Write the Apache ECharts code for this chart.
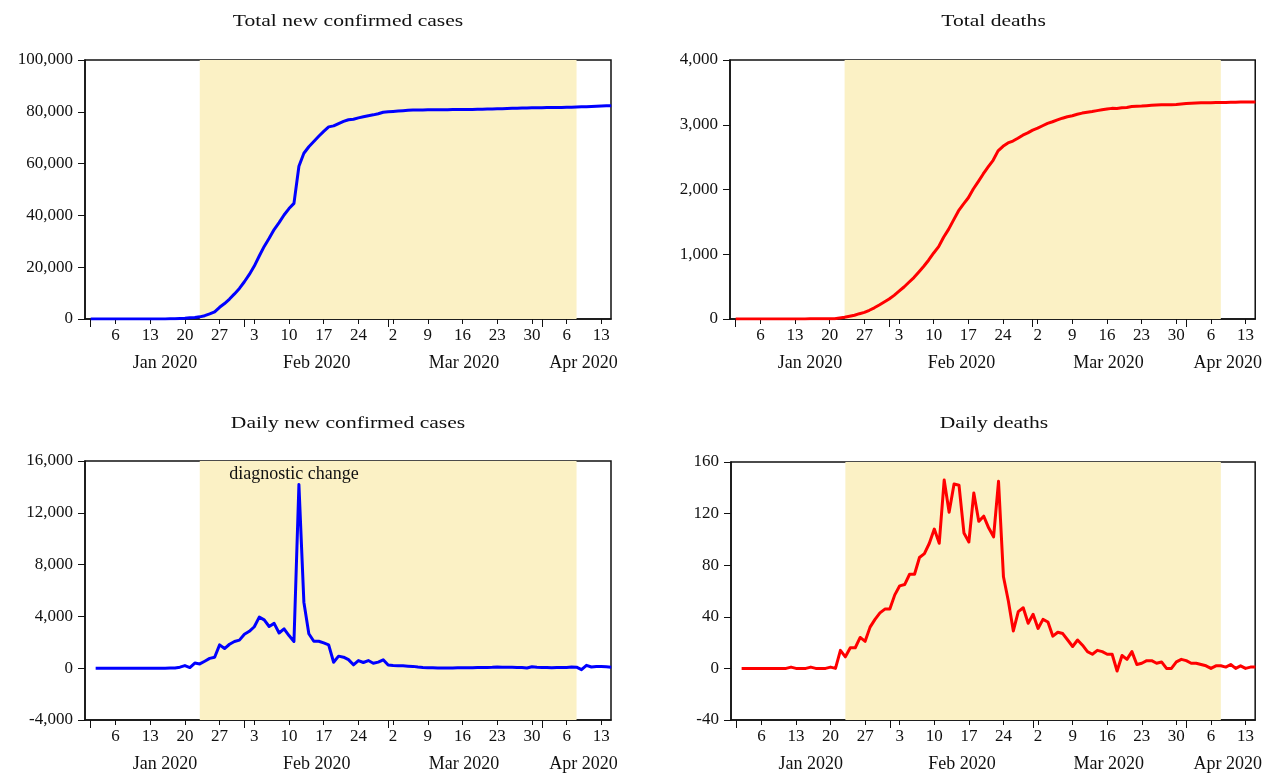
<!DOCTYPE html>
<html><head><meta charset="utf-8">
<script src="https://cdn.jsdelivr.net/npm/echarts@6/dist/echarts.min.js"></script>
<style>html,body{margin:0;padding:0;background:#fff}#c{width:1265px;height:773px}</style>
</head><body><div id="c"></div>
<script>
// ---------------- data ----------------
const startDate = '2020-01-01';           // first observation (totals)
const endDate = '2020-04-15';             // last observation
const lockdownStart = '2020-01-23';       // shaded period
const lockdownEnd = '2020-04-08';

// Total new confirmed cases, Jan 1 .. Apr 15
const totalCases = [
  27,27,27,27,27,27,27,27,27,27,27,27,27,27,27,45,62,121,198,291,440,571,830,1287,1975,2744,4515,5974,7711,9692,11791,
  14380,17205,20438,24324,28018,31161,34546,37198,40171,42638,44653,59000,64000,66500,68500,70548,72436,74185,74576,75465,76288,76936,77150,77658,78064,78497,78824,79251,79824,
  80026,80151,80270,80409,80552,80651,80695,80735,80754,80778,80793,80813,80824,80844,80860,80881,80894,80928,80967,81008,81054,81093,81171,81218,81285,81340,81394,81439,81470,81518,81554,
  81589,81620,81639,81669,81708,81740,81802,81865,81907,81953,82052,82160,82249,82295,82341
];
// Total deaths, Jan 1 .. Apr 15
const totalDeaths = [
  0,0,0,0,0,0,0,0,0,0,0,1,1,1,1,2,2,2,2,3,3,17,26,42,58,82,103,135,173,216,262,
  308,365,429,494,567,640,726,815,912,1020,1117,1263,1384,1527,1669,1774,1872,2008,2122,2240,2349,2451,2596,2667,2719,2748,2792,2839,2874,
  2916,2947,2985,3021,3046,3074,3101,3123,3140,3162,3180,3193,3204,3218,3231,3242,3253,3251,3261,3268,3281,3284,3288,3294,3300,3304,3309,3309,3309,3314,3321,
  3327,3331,3335,3338,3340,3340,3342,3344,3345,3348,3348,3350,3350,3351,3351
];
// Daily new confirmed cases, Jan 2 .. Apr 15
const dailyCases = [
  0,0,0,0,0,0,0,0,0,0,0,0,0,0,4,17,20,80,200,50,400,330,540,760,850,1800,1520,1850,2060,2170,
  2620,2850,3200,3940,3730,3220,3460,2720,3040,2520,2060,14180,5100,2660,2080,2080,1950,1800,460,930,850,660,260,590,440,590,380,470,650,
  240,200,190,180,160,140,90,60,40,30,25,20,20,25,30,30,30,40,50,60,60,70,90,80,80,70,60,50,20,110,70,
  60,50,40,50,50,60,90,80,-110,220,90,130,130,110,80
];
// Daily deaths, Jan 2 .. Apr 15
const dailyDeaths = [
  0,0,0,0,0,0,0,0,0,0,1,0,0,0,1,0,0,0,1,0,14,9,16,16,24,21,32,38,43,46,
  46,57,64,65,73,73,86,89,97,108,97,146,121,143,142,105,98,136,114,118,109,102,145,71,52,29,44,47,35,
  42,31,38,36,25,28,27,22,17,22,18,13,11,14,13,11,11,-2,10,7,13,3,4,6,6,4,5,0,0,5,7,
  6,4,4,3,2,0,2,2,1,3,0,2,0,1,1
];

const titles = ['Total new confirmed cases', 'Total deaths', 'Daily new confirmed cases', 'Daily deaths'];
const dayTickDates = ['2020-01-06','2020-01-13','2020-01-20','2020-01-27','2020-02-03','2020-02-10','2020-02-17','2020-02-24',
  '2020-03-02','2020-03-09','2020-03-16','2020-03-23','2020-03-30','2020-04-06','2020-04-13'];
const dayTickLabels = ['6','13','20','27','3','10','17','24','2','9','16','23','30','6','13'];
const monthStartDates = ['2020-01-01','2020-02-01','2020-03-01','2020-04-01'];
const monthLabels = ['Jan 2020','Feb 2020','Mar 2020','Apr 2020'];
const yTicks = [[0,100000,20000],[0,4000,1000],[-4000,16000,4000],[-40,160,40]];
const annotationText = 'diagnostic change';
const annotationDate = '2020-02-11';
const annotationValue = 15000;

// ---------------- helpers ----------------
const DAY = 86400000;
function idx(d){ const [y,m,dd] = d.split('-').map(Number); const [y0,m0,d0] = startDate.split('-').map(Number);
  return Math.round((Date.UTC(y,m-1,dd) - Date.UTC(y0,m0-1,d0)) / DAY); }
const dayTickIdx = dayTickDates.map(idx);
const monthStartIdx = monthStartDates.map(idx);
const monthLabelPos = [15, 45.6, 75.3, 99.4];   // label anchors (layout)
const font = 'Liberation Serif';
const txt = '#111';
const fs = 17;

function pairs(arr, first){ return arr.map((v,i)=>[first+i, v]); }

const panels = [
  {data: pairs(totalCases, idx(startDate)),  color:'#0000FF', grid:{left:85,  top:60,  width:526, height:259}, titleY:22},
  {data: pairs(totalDeaths, idx(startDate)), color:'#FF0000', grid:{left:730, top:60,  width:527, height:259}, titleY:22},
  {data: pairs(dailyCases, idx(startDate)+1), color:'#0000FF', grid:{left:85,  top:461, width:526, height:260}, titleY:424},
  {data: pairs(dailyDeaths, idx(startDate)+1),color:'#FF0000', grid:{left:731, top:462, width:526, height:259}, titleY:424}
];
const xMin = -1.15, xMax = 104.95;

const option = {animation:false, backgroundColor:'#fff', graphic:[], grid:[], xAxis:[], yAxis:[], series:[]};
panels.forEach((p,i)=>{
  option.grid.push(Object.assign({show:true, borderColor:'#111', borderWidth:1.5, backgroundColor:'transparent', containLabel:false}, p.grid));
  option.graphic.push({type:'text', x:p.grid.left + p.grid.width/2, y:p.titleY, scaleX:1.27, silent:true,
    style:{text:titles[i], fontFamily:font, fontSize:17, fill:txt, textAlign:'center', textVerticalAlign:'middle', verticalAlign:'middle'}});
  const [ymin,ymax,yint] = yTicks[i];
  option.yAxis.push({gridIndex:i, type:'value', min:ymin, max:ymax, interval:yint, position:'left',
    axisLine:{show:true, onZero:false, lineStyle:{color:'#111', width:1.5}},
    axisTick:{show:true, inside:false, length:7, lineStyle:{color:'#111'}},
    axisLabel:{margin:12, fontFamily:font, fontSize:fs, color:txt, formatter:v=>v.toLocaleString('en-US')},
    splitLine:{show:false}});
  option.xAxis.push({gridIndex:i, type:'value', min:xMin, max:xMax, position:'bottom',
    axisLine:{show:true, onZero:false, lineStyle:{color:'#111', width:1.5}},
    axisTick:{show:true, inside:false, length:5, customValues:dayTickIdx, lineStyle:{color:'#111'}},
    axisLabel:{customValues:dayTickIdx, margin:8, fontFamily:font, fontSize:fs, color:txt,
      formatter:v=>dayTickLabels[dayTickIdx.indexOf(Math.round(v))]},
    splitLine:{show:false}});
  option.xAxis.push({gridIndex:i, type:'value', min:xMin, max:xMax, position:'bottom',
    axisLine:{show:false, onZero:false},
    axisTick:{show:true, inside:false, length:8, customValues:monthStartIdx, lineStyle:{color:'#111'}},
    axisLabel:{customValues:monthLabelPos, margin:35, fontFamily:font, fontSize:18, color:txt,
      formatter:v=>monthLabels[monthLabelPos.indexOf(v)]},
    splitLine:{show:false}});
  // shading
  option.series.push({type:'line', xAxisIndex:2*i, yAxisIndex:i, data:p.data, silent:true, z:1,
    showSymbol:false, lineStyle:{width:0, opacity:0},
    markArea:{silent:true, itemStyle:{color:'#FBF1C5'}, data:[[{xAxis:idx(lockdownStart)},{xAxis:idx(lockdownEnd)}]]}});
  const s = {type:'line', xAxisIndex:2*i, yAxisIndex:i, data:p.data, z:3, showSymbol:false, clip:true,
    lineStyle:{color:p.color, width:3, join:'round'}, itemStyle:{color:p.color}};
  if (i===2) {
    s.markPoint = {silent:true, symbol:'circle', symbolSize:1, itemStyle:{color:'rgba(0,0,0,0)'},
      label:{show:true, position:'inside', formatter:annotationText, fontFamily:font, fontSize:18, color:txt},
      data:[{coord:[idx(annotationDate), annotationValue]}]};
  }
  option.series.push(s);
});
const chart = echarts.init(document.getElementById('c'), null, {renderer:'canvas'});
chart.setOption(option);
</script></body></html>
